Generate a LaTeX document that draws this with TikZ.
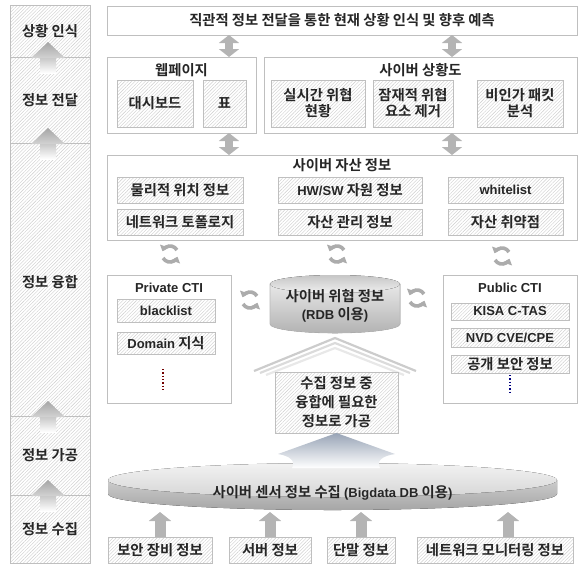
\documentclass[tikz,border=0pt]{standalone}
\usepackage{fontspec}
\setmainfont{Noto Sans CJK KR}[BoldFont={Noto Sans CJK KR Bold}, Scale=1.1]
\newfontfamily\lat{Liberation Sans}
\usetikzlibrary{arrows.meta,patterns.meta}
\definecolor{bord}{HTML}{BFBFBF}
\definecolor{txt}{HTML}{262626}
\definecolor{arr}{HTML}{B4B4B4}
\definecolor{hatch}{HTML}{CDCDCD}
\definecolor{bluearr}{HTML}{98A4B6}
\tikzset{
  colarr/.pic={
    \shade[top color=gray!45, bottom color=white] (-8,0) rectangle (8,16);
    \shade[top color=gray!70, bottom color=gray!35] (-17,1) -- (0,-15) -- (17,1) -- cycle;
  },
  refresh/.pic={
    \draw[gray!65, line width=3.6pt, -{Triangle[width=9pt,length=5.5pt]}] (30:8pt) arc[start angle=30, end angle=160, radius=8pt];
    \draw[gray!65, line width=3.6pt, -{Triangle[width=9pt,length=5.5pt]}] (210:8pt) arc[start angle=210, end angle=340, radius=8pt];
  }
}
\begin{document}
\begin{tikzpicture}[x=1pt,y=-1pt,
  every node/.style={font=\bfseries\fontsize{13pt}{16pt}\selectfont, text=txt, inner sep=0pt, outer sep=0pt, align=center},
  lsp/.style={font=\bfseries\fontsize{13pt}{#1}\selectfont},
  outer/.style={draw=bord, line width=0.9pt, fill=white, rectangle},
  hbox/.style={draw=bord, line width=0.9pt, rectangle, preaction={fill=white},
    pattern={Lines[angle=45,distance=2.4pt,line width=0.4pt]}, pattern color=hatch},
  dbl/.style={draw=arr, line width=8pt, {Triangle[width=20pt,length=8pt]}-{Triangle[width=20pt,length=8pt]}},
  upa/.style={draw=arr, line width=11pt, -{Triangle[width=22pt,length=9pt]}},
]
\useasboundingbox (0,0) rectangle (583,566);

% ---------- left column ----------
\node[hbox, minimum width=80pt, minimum height=52pt] (r1) at (50,31) {상황 인식};
\node[hbox, minimum width=80pt, minimum height=86pt] (r2) at (50,100) {정보 전달};
\node[hbox, minimum width=80pt, minimum height=273pt] (r3) at (50,279.5) {};
\node at (50,282) (r3t) {정보 융합};
\node[hbox, minimum width=80pt, minimum height=79pt] (r4) at (50,455.5) {정보 가공};
\node[hbox, minimum width=80pt, minimum height=68pt] (r5) at (50,529) {정보 수집};
\pic at (48,57) {colarr};
\pic at (48,143) {colarr};
\pic at (48,416) {colarr};
\pic at (48,495) {colarr};

% ---------- top ----------
\node[outer, minimum width=470pt, minimum height=29pt] (top) at (342,20.5) {직관적 정보 전달을 통한 현재 상황 인식 및 향후 예측};

% ---------- information delivery ----------
\node[outer, minimum width=149pt, minimum height=76pt] (web) at (181.5,95) {};
\node (tweb) at (181.5,70) {웹페이지};
\node[hbox, minimum width=76pt, minimum height=47pt] (dash) at (155,103.5) {대시보드};
\node[hbox, minimum width=43pt, minimum height=47pt] (tbl) at (224.5,103.5) {표};

\node[outer, minimum width=313pt, minimum height=76pt] (sit) at (420.5,95) {};
\node (tsit) at (420.5,70) {사이버 상황도};
\node[hbox, lsp=16pt, minimum width=94pt, minimum height=47pt] (s1) at (318,103.5) {실시간 위협\\현황};
\node[hbox, lsp=16pt, minimum width=80pt, minimum height=47pt] (s2) at (413,103.5) {잠재적 위협\\요소 제거};
\node[hbox, lsp=16pt, minimum width=86pt, minimum height=47pt] (s3) at (520,103.5) {비인가 패킷\\분석};

% ---------- asset info ----------
\node[outer, minimum width=470pt, minimum height=85pt] (asset) at (342,197.5) {};
\node (tasset) at (342,165) {사이버 자산 정보};
\node[hbox, minimum width=126pt, minimum height=26pt] (a1) at (180,190) {물리적 위치 정보};
\node[hbox, minimum width=126pt, minimum height=26pt] (a2) at (180,222) {네트워크 토폴로지};
\node[hbox, minimum width=144pt, minimum height=26pt] (a3) at (350,190) {{\lat HW/SW} 자원 정보};
\node[hbox, minimum width=144pt, minimum height=26pt] (a4) at (350,222) {자산 관리 정보};
\node[hbox, minimum width=115pt, minimum height=26pt] (a5) at (505.5,190) {{\lat whitelist}};
\node[hbox, minimum width=115pt, minimum height=26pt] (a6) at (505.5,222) {자산 취약점};

\coordinate (c1) at (229,0);
\coordinate (c2) at (452,0);
\draw[dbl] (top.south -| c1) -- (web.north -| c1);
\draw[dbl] (top.south -| c2) -- (sit.north -| c2);
\draw[dbl] (web.south -| c1) -- (asset.north -| c1);
\draw[dbl] (sit.south -| c2) -- (asset.north -| c2);

\pic at (170,254) {refresh};
\pic at (337,254) {refresh};
\pic at (502,256) {refresh};
\pic at (250,300) {refresh};
\pic at (417,298) {refresh};

% ---------- CTI ----------
\node[outer, minimum width=124pt, minimum height=128pt] (priv) at (169,339) {};
\node (tpriv) at (169,288) {\lat Private CTI};
\node[hbox, minimum width=98pt, minimum height=23pt] (bl) at (166,310.5) {\lat blacklist};
\node[hbox, minimum width=98pt, minimum height=22pt] (dom) at (166,343) {{\lat Domain} 지식};
\draw[red!45!black, dotted, line width=1.3pt] (163,369) -- (163,392);

\node[outer, minimum width=134pt, minimum height=128pt] (pub) at (510,339) {};
\node (tpub) at (510,288) {\lat Public CTI};
\node[hbox, minimum width=118pt, minimum height=17pt] (p1) at (510,311.5) {\lat KISA C-TAS};
\node[hbox, minimum width=118pt, minimum height=19pt] (p2) at (510,337.5) {\lat NVD CVE/CPE};
\node[hbox, minimum width=118pt, minimum height=18pt] (p3) at (510,364) {공개 보안 정보};
\draw[blue!50!black, dotted, line width=1.3pt] (510,375) -- (510,393);

% ---------- RDB cylinder ----------
\fill[top color=gray!18, bottom color=gray!60, draw=gray!55, line width=0.6pt] (270,284) -- (270,324) arc[start angle=180, end angle=360, x radius=65pt, y radius=9pt] -- (400,284) -- cycle;
\fill[top color=gray!45, bottom color=gray!12] (335,284) ellipse[x radius=65pt, y radius=9pt];
\node[lsp=18pt, minimum width=130pt, minimum height=56pt] (rdb) at (335,306) {사이버 위협 정보\\{\lat (RDB} 이용{\lat )}};

% chevron
\draw[gray!40, line width=2.2pt] (254,371) -- (335,338) -- (416,371);
\draw[gray!28, line width=2.2pt] (260,373) -- (335,343) -- (410,373);
\draw[gray!18, line width=2.2pt] (266,375) -- (335,348) -- (404,375);

\node[hbox, lsp=19pt, minimum width=123pt, minimum height=61pt] (proc) at (336.5,402.5) {수집 정보 중\\융합에 필요한\\정보로 가공};

% ---------- Bigdata disk ----------
\fill[top color=gray!40, bottom color=gray!70] (108,480) -- (108,494) arc[start angle=180, end angle=360, x radius=224.5pt, y radius=16pt] -- (557,480) -- cycle;
\fill[top color=gray!10, bottom color=gray!32] (332.5,480) ellipse[x radius=224.5pt, y radius=17pt];
\shade[top color=bluearr, bottom color=white] (proc.south) -- (278,454) .. controls (290,456) and (296,461) .. (292,468) -- (380,468) .. controls (376,461) and (382,456) .. (395,454) -- cycle;
\node (disk) at (332.5,493) {사이버 센서 정보 수집 {\lat (Bigdata DB} 이용{\lat )}};

% ---------- collection sources ----------
\node[hbox, minimum width=104pt, minimum height=26pt] (b1) at (160,550) {보안 장비 정보};
\node[hbox, minimum width=82pt, minimum height=26pt] (b2) at (270,550) {서버 정보};
\node[hbox, minimum width=68pt, minimum height=26pt] (b3) at (361,550) {단말 정보};
\node[hbox, minimum width=156pt, minimum height=26pt] (b4) at (495,550) {네트워크 모니터링 정보};
\coordinate (dk) at (0,512);
\coordinate (x4) at (508,0);
\draw[upa] (b1.north) -- (b1.north |- dk);
\draw[upa] (b2.north) -- (b2.north |- dk);
\draw[upa] (b3.north) -- (b3.north |- dk);
\draw[upa] (b4.north -| x4) -- (x4 |- dk);
\end{tikzpicture}
\end{document}
